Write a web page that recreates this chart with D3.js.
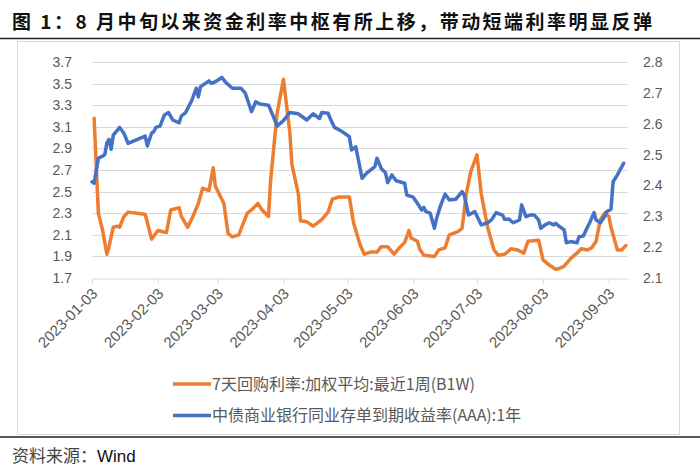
<!DOCTYPE html>
<html><head><meta charset="utf-8">
<script src="https://cdn.jsdelivr.net/npm/d3@7"></script>
<style>body{margin:0;background:#fff}svg{display:block}</style>
</head><body>
<svg id="c" width="700" height="473"></svg>
<script>
const titleText = "图 1：8 月中旬以来资金利率中枢有所上移，带动短端利率明显反弹";
const sourceText = "资料来源：";
const sourceName = "Wind";
const seriesNames = ["7天回购利率:加权平均:最近1周(B1W)", "中债商业银行同业存单到期收益率(AAA):1年"];
const leftTicks = [1.7, 1.9, 2.1, 2.3, 2.5, 2.7, 2.9, 3.1, 3.3, 3.5, 3.7];
const rightTicks = [2.1, 2.2, 2.3, 2.4, 2.5, 2.6, 2.7, 2.8];
const xTickLabels = ["2023-01-03","2023-02-03","2023-03-03","2023-04-03","2023-05-03","2023-06-03","2023-07-03","2023-08-03","2023-09-03"];
const xDomain = ["2023-01-03", "2023-09-12"];

const repo = [["2023-01-04",3.18],["2023-01-06",2.30],["2023-01-08",2.14],["2023-01-10",1.92],["2023-01-11",1.99],["2023-01-13",2.17],["2023-01-15",2.18],["2023-01-16",2.17],["2023-01-18",2.27],["2023-01-20",2.31],["2023-01-24",2.30],["2023-01-28",2.29],["2023-01-30",2.14],["2023-01-31",2.06],["2023-02-03",2.14],["2023-02-07",2.12],["2023-02-09",2.33],["2023-02-13",2.35],["2023-02-14",2.27],["2023-02-17",2.17],["2023-02-19",2.25],["2023-02-22",2.39],["2023-02-24",2.53],["2023-02-27",2.51],["2023-03-01",2.72],["2023-03-02",2.55],["2023-03-06",2.39],["2023-03-08",2.11],["2023-03-10",2.08],["2023-03-13",2.10],["2023-03-17",2.30],["2023-03-19",2.33],["2023-03-22",2.39],["2023-03-24",2.33],["2023-03-27",2.27],["2023-03-28",2.61],["2023-03-31",3.22],["2023-04-03",3.54],["2023-04-06",3.05],["2023-04-07",2.75],["2023-04-10",2.48],["2023-04-11",2.23],["2023-04-14",2.22],["2023-04-17",2.18],["2023-04-21",2.24],["2023-04-24",2.31],["2023-04-26",2.43],["2023-04-29",2.45],["2023-05-04",2.45],["2023-05-06",2.21],["2023-05-09",2.01],["2023-05-11",1.92],["2023-05-14",1.94],["2023-05-17",1.94],["2023-05-19",1.99],["2023-05-22",1.99],["2023-05-25",1.92],["2023-05-28",1.99],["2023-05-30",2.03],["2023-06-01",2.14],["2023-06-02",2.07],["2023-06-05",2.04],["2023-06-06",1.97],["2023-06-08",1.91],["2023-06-13",1.90],["2023-06-15",1.96],["2023-06-18",1.98],["2023-06-20",2.10],["2023-06-24",2.13],["2023-06-26",2.16],["2023-06-28",2.48],["2023-06-30",2.68],["2023-07-03",2.84],["2023-07-05",2.48],["2023-07-08",2.17],["2023-07-11",1.96],["2023-07-13",1.91],["2023-07-16",1.92],["2023-07-19",1.97],["2023-07-22",1.96],["2023-07-25",1.93],["2023-07-27",2.04],["2023-08-01",2.05],["2023-08-03",1.87],["2023-08-06",1.82],["2023-08-09",1.78],["2023-08-11",1.79],["2023-08-13",1.81],["2023-08-16",1.88],["2023-08-19",1.93],["2023-08-21",1.97],["2023-08-24",1.96],["2023-08-26",1.98],["2023-08-28",2.04],["2023-08-30",2.24],["2023-09-01",2.30],["2023-09-03",2.27],["2023-09-04",2.17],["2023-09-07",1.96],["2023-09-09",1.96],["2023-09-11",2.00]];

const ncd = [["2023-01-03",2.412],["2023-01-04",2.407],["2023-01-06",2.488],["2023-01-08",2.495],["2023-01-09",2.500],["2023-01-10",2.538],["2023-01-11",2.549],["2023-01-12",2.517],["2023-01-13",2.563],["2023-01-16",2.588],["2023-01-18",2.569],["2023-01-20",2.536],["2023-01-23",2.545],["2023-01-28",2.560],["2023-01-29",2.528],["2023-01-31",2.569],["2023-02-01",2.574],["2023-02-02",2.588],["2023-02-04",2.592],["2023-02-06",2.628],["2023-02-08",2.636],["2023-02-10",2.612],["2023-02-13",2.603],["2023-02-14",2.625],["2023-02-16",2.636],["2023-02-19",2.677],["2023-02-21",2.715],["2023-02-22",2.687],["2023-02-23",2.720],["2023-02-27",2.739],["2023-02-28",2.731],["2023-03-02",2.736],["2023-03-05",2.750],["2023-03-07",2.733],["2023-03-10",2.715],["2023-03-14",2.715],["2023-03-16",2.700],["2023-03-18",2.660],["2023-03-19",2.639],["2023-03-21",2.671],["2023-03-23",2.664],["2023-03-27",2.660],["2023-03-29",2.628],["2023-03-31",2.592],["2023-04-03",2.610],["2023-04-06",2.636],["2023-04-10",2.632],["2023-04-14",2.612],["2023-04-17",2.632],["2023-04-20",2.617],["2023-04-21",2.636],["2023-04-24",2.634],["2023-04-25",2.617],["2023-04-27",2.588],["2023-04-30",2.577],["2023-05-04",2.558],["2023-05-05",2.515],["2023-05-07",2.525],["2023-05-10",2.423],["2023-05-12",2.439],["2023-05-16",2.461],["2023-05-17",2.488],["2023-05-19",2.455],["2023-05-21",2.441],["2023-05-22",2.409],["2023-05-24",2.434],["2023-05-26",2.415],["2023-05-30",2.407],["2023-05-31",2.369],["2023-06-03",2.362],["2023-06-05",2.342],["2023-06-07",2.320],["2023-06-08",2.329],["2023-06-09",2.315],["2023-06-11",2.310],["2023-06-13",2.261],["2023-06-14",2.293],["2023-06-16",2.337],["2023-06-18",2.372],["2023-06-20",2.353],["2023-06-23",2.355],["2023-06-26",2.380],["2023-06-27",2.369],["2023-06-29",2.304],["2023-07-02",2.315],["2023-07-04",2.286],["2023-07-05",2.272],["2023-07-08",2.279],["2023-07-10",2.290],["2023-07-12",2.312],["2023-07-15",2.304],["2023-07-16",2.290],["2023-07-18",2.291],["2023-07-20",2.279],["2023-07-23",2.288],["2023-07-24",2.337],["2023-07-26",2.299],["2023-07-28",2.304],["2023-07-30",2.304],["2023-08-01",2.288],["2023-08-02",2.261],["2023-08-04",2.272],["2023-08-06",2.279],["2023-08-08",2.272],["2023-08-09",2.277],["2023-08-11",2.266],["2023-08-13",2.256],["2023-08-14",2.214],["2023-08-16",2.218],["2023-08-19",2.214],["2023-08-20",2.234],["2023-08-22",2.236],["2023-08-24",2.266],["2023-08-25",2.279],["2023-08-27",2.312],["2023-08-28",2.288],["2023-08-30",2.279],["2023-09-01",2.299],["2023-09-02",2.315],["2023-09-04",2.323],["2023-09-05",2.412],["2023-09-07",2.434],["2023-09-10",2.472]];

const parse = d3.timeParse("%Y-%m-%d");
const svg = d3.select("#c");
const cjk = "'Noto Sans CJK SC', 'Noto Sans', sans-serif";
const lat = "'Liberation Sans', Arial, sans-serif";

// title
svg.append("text").attr("x", 12).attr("y", 29)
  .attr("font-family", cjk).attr("font-size", 19).attr("font-weight", "bold").attr("fill", "#111")
  .attr("textLength", 640).attr("lengthAdjust", "spacing")
  .text(titleText);
svg.append("line").attr("x1", 0).attr("x2", 700).attr("y1", 38.5).attr("y2", 38.5)
  .attr("stroke", "#222").attr("stroke-width", 1.5);
// chart frame
svg.append("rect").attr("x", 17.5).attr("y", 41.5).attr("width", 662).attr("height", 393)
  .attr("fill", "#fff").attr("stroke", "#d9d9d9").attr("stroke-width", 1);
svg.append("line").attr("x1", 0).attr("x2", 700).attr("y1", 437).attr("y2", 437)
  .attr("stroke", "#222").attr("stroke-width", 1.5);
// source
const src = svg.append("text").attr("x", 12).attr("y", 462).attr("font-size", 17);
src.append("tspan").attr("font-family", cjk).attr("fill", "#444").text(sourceText);
src.append("tspan").attr("font-family", lat).attr("fill", "#111").text(sourceName);

const x = d3.scaleTime().domain(xDomain.map(parse)).range([92, 628]);
const yL = d3.scaleLinear().domain([1.7, 3.7]).range([278, 62]);
const yR = d3.scaleLinear().domain([2.1, 2.8]).range([278, 62]);

// gridlines
svg.append("g").selectAll("line").data(leftTicks.slice(1)).join("line")
  .attr("x1", 92).attr("x2", 628).attr("y1", d => Math.round(yL(d)) + 0.5).attr("y2", d => Math.round(yL(d)) + 0.5)
  .attr("stroke", "#d9d9d9").attr("stroke-width", 1);

// left axis
const gl = svg.append("g").attr("transform", "translate(92,0)")
  .call(d3.axisLeft(yL).tickValues(leftTicks).tickFormat(d3.format(".1f")).tickSize(0).tickPadding(20));
gl.select(".domain").remove();
gl.selectAll("text").attr("font-family", lat).attr("font-size", 14).attr("fill", "#595959");

// right axis
const gr = svg.append("g").attr("transform", "translate(628,0)")
  .call(d3.axisRight(yR).tickValues(rightTicks).tickFormat(d3.format(".1f")).tickSize(0).tickPadding(15));
gr.select(".domain").remove();
gr.selectAll("text").attr("font-family", lat).attr("font-size", 14).attr("fill", "#595959");

// x axis
const gx = svg.append("g").attr("transform", "translate(0,278.5)")
  .call(d3.axisBottom(x).tickValues(xTickLabels.map(parse)).tickFormat(d3.timeFormat("%Y-%m-%d")).tickSize(5).tickSizeOuter(0));
gx.select(".domain").attr("stroke", "#d9d9d9");
gx.selectAll(".tick line").attr("stroke", "#d9d9d9");
gx.selectAll("text").attr("font-family", lat).attr("font-size", 15).attr("fill", "#595959")
  .attr("text-anchor", "end").attr("dy", 0).attr("y", 0)
  .attr("transform", "translate(6,16) rotate(-45)");

// lines
const lineL = d3.line().x(d => x(parse(d[0]))).y(d => yL(d[1]));
const lineR = d3.line().x(d => x(parse(d[0]))).y(d => yR(d[1]));
svg.append("path").datum(repo).attr("d", lineL).attr("fill", "none")
  .attr("stroke", "#ED7D31").attr("stroke-width", 3.5).attr("stroke-linejoin", "round").attr("stroke-linecap", "round");
svg.append("path").datum(ncd).attr("d", lineR).attr("fill", "none")
  .attr("stroke", "#4472C4").attr("stroke-width", 3.5).attr("stroke-linejoin", "round").attr("stroke-linecap", "round");

// legend
const colors = ["#ED7D31", "#4472C4"];
const lg = svg.append("g").selectAll("g").data(seriesNames).join("g")
  .attr("transform", (d, i) => `translate(0,${384 + i * 31.5})`);
lg.append("line").attr("x1", 173).attr("x2", 211).attr("y1", 0).attr("y2", 0)
  .attr("stroke", (d, i) => colors[i]).attr("stroke-width", 3.5);
lg.append("text").attr("x", 212).attr("y", 0).attr("dy", "0.35em")
  .attr("font-family", cjk).attr("font-size", 16).attr("fill", "#595959").text(d => d);
</script>
</body></html>
